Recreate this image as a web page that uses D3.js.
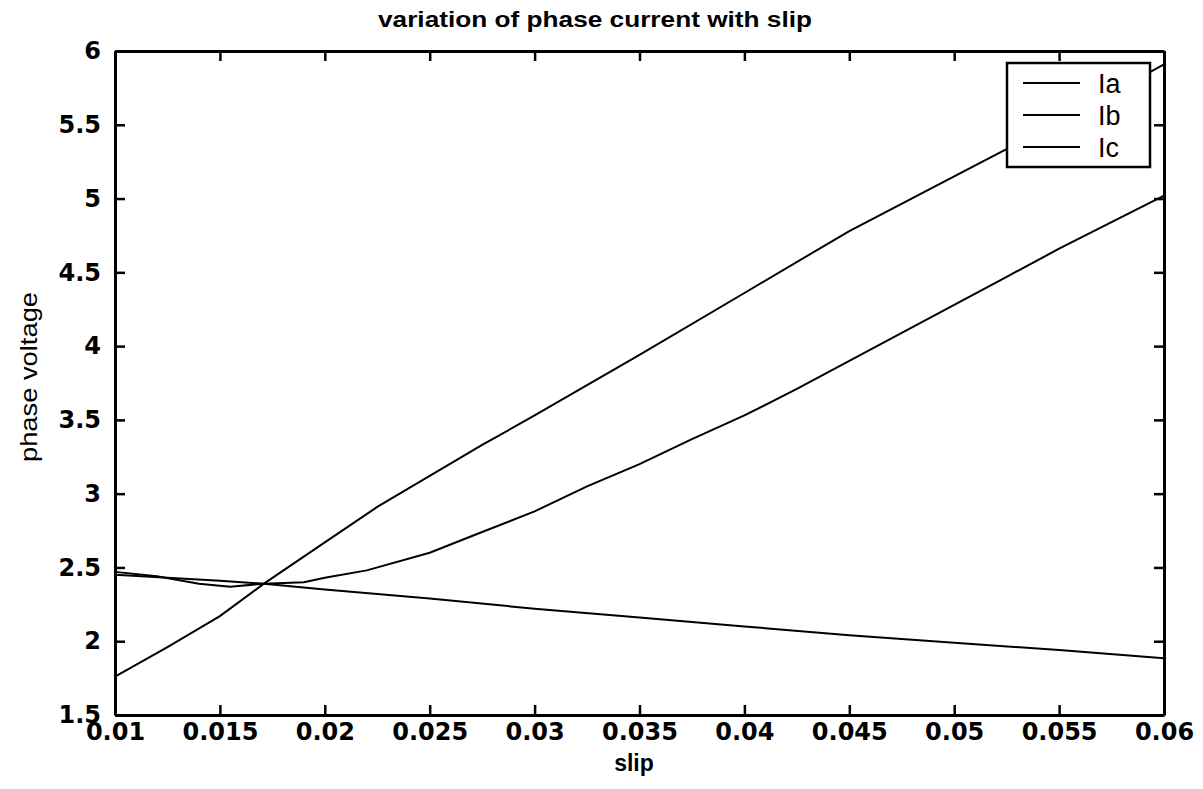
<!DOCTYPE html>
<html>
<head>
<meta charset="utf-8">
<script src="https://cdn.jsdelivr.net/npm/d3@7"></script>
<style>
  body { margin: 0; background: #fff; }
  svg { display: block; }
</style>
</head>
<body>
<div id="chart"></div>
<script>
// slip values and the three phase currents
const slipA = [0.01, 0.0125, 0.015, 0.0171, 0.02, 0.0225, 0.025, 0.0275, 0.03, 0.035, 0.04, 0.045, 0.05, 0.055, 0.06];
const Ia    = [1.76, 1.96,   2.17,  2.39,   2.67, 2.91,   3.12,  3.33,   3.53, 3.94,  4.36, 4.78,  5.15, 5.52,  5.91];

const slipB = [0.01, 0.012, 0.014, 0.0155, 0.0171, 0.019, 0.02, 0.022, 0.025, 0.0275, 0.03, 0.0325, 0.035, 0.0375, 0.04, 0.0425, 0.045, 0.0475, 0.05, 0.0525, 0.055, 0.0575, 0.06];
const Ib    = [2.47, 2.44,  2.39,  2.37,   2.39,   2.40,  2.43, 2.48,  2.60,  2.74,   2.88, 3.05,   3.20,  3.37,   3.53, 3.71,   3.90,  4.09,   4.28, 4.47,   4.66,  4.84,   5.02];

const slipC = [0.01, 0.015, 0.0171, 0.02, 0.025, 0.03, 0.035, 0.04, 0.045, 0.05, 0.055, 0.06];
const Ic    = [2.45, 2.41,  2.39,   2.35, 2.29,  2.22, 2.16,  2.10, 2.04,  1.99, 1.94,  1.885];

const xTicks = [0.01, 0.015, 0.02, 0.025, 0.03, 0.035, 0.04, 0.045, 0.05, 0.055, 0.06];
const yTicks = [1.5, 2, 2.5, 3, 3.5, 4, 4.5, 5, 5.5, 6];
const seriesNames = ["Ia", "Ib", "Ic"];

const width = 1203, height = 789;
const margin = { top: 51, right: 39, bottom: 74, left: 115 };

const svg = d3.select("#chart").append("svg")
  .attr("width", width)
  .attr("height", height);

const x = d3.scaleLinear().domain([0.01, 0.06]).range([margin.left, width - margin.right]);
const y = d3.scaleLinear().domain([1.5, 6]).range([height - margin.bottom, margin.top]);

const tickFont = "'DejaVu Sans', sans-serif";

// axes, ticks pointing inwards like matlab
const xAxis = svg.append("g")
  .attr("transform", `translate(0,${y(1.5)})`)
  .call(d3.axisBottom(x).tickValues(xTicks).tickFormat(d => String(+d.toFixed(3)))
    .tickSizeInner(-10).tickSizeOuter(0).tickPadding(14));

const yAxis = svg.append("g")
  .attr("transform", `translate(${x(0.01)},0)`)
  .call(d3.axisLeft(y).tickValues(yTicks).tickFormat(d => String(d))
    .tickSizeInner(-10).tickSizeOuter(0).tickPadding(14));

const xTop = svg.append("g")
  .attr("transform", `translate(0,${y(6)})`)
  .call(d3.axisTop(x).tickValues(xTicks).tickFormat("").tickSizeInner(-10).tickSizeOuter(0));

const yRight = svg.append("g")
  .attr("transform", `translate(${x(0.06)},0)`)
  .call(d3.axisRight(y).tickValues(yTicks).tickFormat("").tickSizeInner(-10).tickSizeOuter(0));

[xAxis, yAxis, xTop, yRight].forEach(g => {
  g.select(".domain").attr("stroke", "#000").attr("stroke-width", 3);
  g.selectAll(".tick line").attr("stroke", "#000").attr("stroke-width", 2.5);
  g.selectAll(".tick text")
    .attr("fill", "#000")
    .style("font-family", tickFont)
    .style("font-weight", "bold")
    .style("font-size", "24px");
});
xAxis.selectAll(".tick text").attr("dy", "0.45em");

// curves
const line = d3.line().x(d => x(d[0])).y(d => y(d[1]));
const series = [
  d3.zip(slipA, Ia),
  d3.zip(slipB, Ib),
  d3.zip(slipC, Ic)
];

svg.append("g").selectAll("path")
  .data(series)
  .join("path")
  .attr("d", line)
  .attr("fill", "none")
  .attr("stroke", "#000")
  .attr("stroke-width", 2);

// legend
const legend = svg.append("g");
legend.append("rect")
  .attr("x", 1007).attr("y", 63)
  .attr("width", 143).attr("height", 104)
  .attr("fill", "#fff")
  .attr("stroke", "#000")
  .attr("stroke-width", 2.5);

const rows = legend.selectAll("g.row")
  .data(seriesNames)
  .join("g")
  .attr("class", "row")
  .attr("transform", (d, i) => `translate(0,${83 + i * 32})`);

rows.append("line")
  .attr("x1", 1023).attr("x2", 1080)
  .attr("stroke", "#000").attr("stroke-width", 2);

rows.append("text")
  .attr("x", 1098)
  .attr("dy", "0.36em")
  .style("font-family", "'Liberation Sans', Arial, sans-serif")
  .style("font-size", "27px")
  .text(d => d);

// titles
svg.append("text")
  .attr("x", 595).attr("y", 27)
  .attr("text-anchor", "middle")
  .style("font-family", "'Liberation Sans', Arial, sans-serif")
  .style("font-weight", "bold")
  .style("font-size", "22px")
  .attr("textLength", 434)
  .attr("lengthAdjust", "spacingAndGlyphs")
  .text("variation of phase current with slip");

svg.append("text")
  .attr("x", 634).attr("y", 771)
  .attr("text-anchor", "middle")
  .style("font-family", "'Liberation Sans', Arial, sans-serif")
  .style("font-weight", "bold")
  .style("font-size", "23px")
  .text("slip");

svg.append("text")
  .attr("transform", `translate(37,377) rotate(-90)`)
  .attr("text-anchor", "middle")
  .style("font-family", "'Liberation Sans', Arial, sans-serif")
  .style("font-size", "24px")
  .attr("textLength", 170)
  .attr("lengthAdjust", "spacingAndGlyphs")
  .text("phase voltage");
</script>
</body>
</html>
